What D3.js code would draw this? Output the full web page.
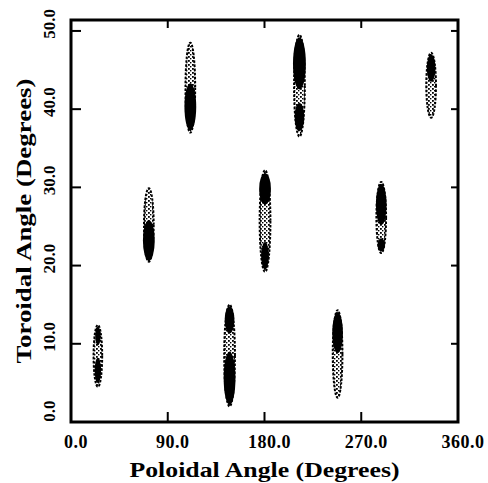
<html>
<head>
  <style>
  body { margin: 0; background: #fff; }
  #chart text {
    font-family: "Liberation Serif", "DejaVu Serif", serif;
    font-weight: bold;
    fill: #000;
  }
  </style>
  <script src="https://d3js.org/d3.v7.min.js"></script>
</head>
<body>
  <svg id="chart"></svg>
</body>
  <script>

  // point clouds: centre poloidal angle, toroidal extent, poloidal width (deg)
  var cloudX  = [25, 147.5, 248, 72.4, 180.5, 288.6, 111, 212.5, 335];
  var cloudLo = [4.5, 2.0, 3.1, 20.5, 19.2, 21.6, 37.0, 36.5, 38.9];
  var cloudHi = [12.4, 15.0, 14.3, 29.9, 32.2, 30.7, 48.5, 49.5, 47.2];
  var cloudW  = [8, 10, 9, 9, 10, 9, 9, 10, 9];

  // dense cores inside the clouds
  var coreX  = [25, 25, 147.5, 147.5, 248, 72.4, 180.5, 180.5, 288.6, 288.6, 111, 212.5, 212.5, 335];
  var coreLo = [5.0, 9.8, 2.2, 11.3, 8.8, 20.6, 27.8, 19.5, 25.2, 21.8, 37.3, 42.5, 37.2, 43.5];
  var coreHi = [8.2, 12.2, 9.0, 14.8, 14.0, 25.8, 31.8, 23.0, 30.4, 23.5, 43.3, 49.2, 40.8, 47.0];
  var coreW  = [6, 5, 11, 9, 10, 11, 11, 7, 10, 7, 11, 12, 9, 8];

  var xTicks = [0, 90, 180, 270, 360];
  var yTicks = [0, 10, 20, 30, 40, 50];

  var width = 488,
      height = 483,
      m = {left: 71, right: 458, top: 20, bottom: 422};

  var x = d3.scaleLinear().domain([0, 360]).range([m.left, m.right]);
  var y = d3.scaleLinear().domain([0, 51.4]).range([m.bottom, m.top]);
  var fmt = d3.format(".1f");

  var chart = d3.select("#chart")
      .attr("width", width)
      .attr("height", height);

  // speckle fill for the sparse parts of the clouds
  var pat = chart.append("defs").append("pattern")
      .attr("id", "speckle")
      .attr("width", 4).attr("height", 4)
      .attr("patternUnits", "userSpaceOnUse");
  pat.append("rect").attr("x", 0).attr("y", 0).attr("width", 1.8).attr("height", 1.8).attr("fill", "#000");
  pat.append("rect").attr("x", 2).attr("y", 2).attr("width", 1.4).attr("height", 1.4).attr("fill", "#000");

  // clouds
  chart.selectAll("ellipse.cloud")
      .data(cloudX)
    .enter().append("ellipse")
      .attr("class", "cloud")
      .attr("cx", function(d) { return x(d); })
      .attr("cy", function(d, i) { return y((cloudLo[i] + cloudHi[i]) / 2); })
      .attr("rx", function(d, i) { return (x(cloudW[i]) - x(0)) / 2; })
      .attr("ry", function(d, i) { return (y(cloudLo[i]) - y(cloudHi[i])) / 2; })
      .attr("fill", "url(#speckle)")
      .attr("stroke", "#000")
      .attr("stroke-width", 2)
      .attr("stroke-dasharray", "2.5 1.5");

  chart.selectAll("ellipse.core")
      .data(coreX)
    .enter().append("ellipse")
      .attr("class", "core")
      .attr("cx", function(d) { return x(d); })
      .attr("cy", function(d, i) { return y((coreLo[i] + coreHi[i]) / 2); })
      .attr("rx", function(d, i) { return (x(coreW[i]) - x(0)) / 2; })
      .attr("ry", function(d, i) { return (y(coreLo[i]) - y(coreHi[i])) / 2; })
      .attr("fill", "#000");

  // inward ticks on all four sides
  var tk = chart.append("g").attr("stroke", "#000").attr("stroke-width", 2);
  xTicks.slice(1, -1).forEach(function(t) {
    tk.append("line").attr("x1", x(t)).attr("x2", x(t)).attr("y1", m.bottom).attr("y2", m.bottom - 10);
    tk.append("line").attr("x1", x(t)).attr("x2", x(t)).attr("y1", m.top).attr("y2", m.top + 8);
  });
  yTicks.slice(1).forEach(function(t) {
    tk.append("line").attr("x1", m.left).attr("x2", m.left + 10).attr("y1", y(t)).attr("y2", y(t));
    tk.append("line").attr("x1", m.right).attr("x2", m.right - 7).attr("y1", y(t)).attr("y2", y(t));
  });

  // frame
  chart.append("rect")
      .attr("x", m.left).attr("y", m.top)
      .attr("width", m.right - m.left).attr("height", m.bottom - m.top)
      .attr("fill", "none").attr("stroke", "#000").attr("stroke-width", 3);

  // tick labels
  chart.selectAll("text.xl")
      .data(xTicks)
    .enter().append("text")
      .attr("class", "xl")
      .attr("x", function(d) { return x(d) + 5; })
      .attr("y", 448)
      .attr("text-anchor", "middle")
      .style("font-size", "18px")
      .style("letter-spacing", "0.5px")
      .text(fmt);

  chart.selectAll("text.yl")
      .data(yTicks)
    .enter().append("text")
      .attr("class", "yl")
      .attr("transform", function(d) { return "translate(55," + (y(d) - (d === 0 ? 11 : 7)) + ") rotate(-90)"; })
      .attr("text-anchor", "middle")
      .style("font-size", "17px")
      .text(fmt);

  // axis titles
  chart.append("text")
      .attr("x", (m.left + m.right) / 2)
      .attr("y", 477)
      .attr("text-anchor", "middle")
      .attr("textLength", 270)
      .attr("lengthAdjust", "spacingAndGlyphs")
      .style("font-size", "22px")
      .text("Poloidal Angle (Degrees)");

  chart.append("text")
      .attr("transform", "translate(31," + (m.top + m.bottom) / 2 + ") rotate(-90)")
      .attr("text-anchor", "middle")
      .attr("textLength", 285)
      .attr("lengthAdjust", "spacingAndGlyphs")
      .style("font-size", "22px")
      .text("Toroidal Angle (Degrees)");

  </script>
</html>
